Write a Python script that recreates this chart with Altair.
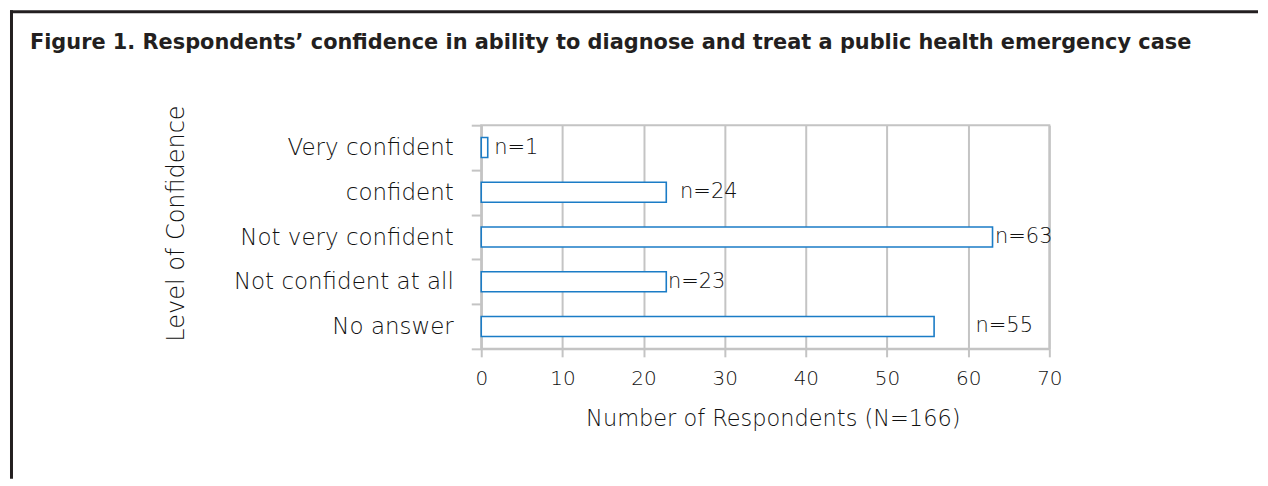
import altair as alt
import pandas as pd

categories = ["Very confident", "confident ", "Not very confident", "Not confident at all", "No answer"]
bar_values = [0.8, 22.8, 63.0, 22.8, 55.8]
labels = ["n=1", "n=24", "n=63", "n=23", "n=55"]
label_at = [1.6, 24.5, 63.3, 23.0, 60.9]

title_text = "Figure 1. Respondents\u2019 confidence in ability to diagnose and treat a public health emergency case"

df = pd.DataFrame({"cat": categories, "val": bar_values, "lab": labels, "lab_x": label_at})

FONT = "DejaVu Sans"
TXT = "#111111"
GRID = "#c4c4c4"
BLUE = "#1b7cc6"

y_enc = alt.Y("cat:N", sort=categories,
              scale=alt.Scale(paddingInner=0, paddingOuter=0),
              axis=alt.Axis(title="Level of Confidence", tickBand="extent", tickSize=10,
                            tickColor=GRID, tickWidth=2, domainColor=GRID, domainWidth=2,
                            labelPadding=18, labelFontSize=23, labelFont=FONT, labelColor=TXT,
                            labelFontWeight=300, labelLimit=0,
                            titleFontSize=24, titleFont=FONT, titleColor=TXT, titleFontWeight=300,
                            titleX=-305, titleY=98, titleBaseline="middle", titleAlign="center",
                            grid=False))

x_scale = alt.Scale(domain=[0, 70], nice=False)

bars = alt.Chart(df).mark_bar(fill="white", stroke=BLUE, strokeWidth=1.6, height=20).encode(
    x=alt.X("val:Q", scale=x_scale,
            axis=alt.Axis(title="Number of Respondents (N=166)", values=[0, 10, 20, 30, 40, 50, 60, 70],
                          grid=True, gridColor=GRID, gridWidth=2, tickSize=8, tickColor=GRID,
                          tickWidth=2, domainColor=GRID, domainWidth=2, labelFlush=False,
                          labelFontSize=20, labelFont=FONT, labelColor=TXT, labelPadding=12,
                          labelFontWeight=300,
                          titleFontSize=22.5, titleFont=FONT, titleColor=TXT, titleFontWeight=300,
                          titlePadding=19, titleX=292, titleAlign="center")),
    y=y_enc,
)

text = alt.Chart(df).mark_text(align="left", baseline="middle", fontSize=21, font=FONT,
                               color=TXT, fontWeight=300).encode(
    x=alt.X("lab_x:Q", scale=x_scale),
    y=alt.Y("cat:N", sort=categories),
    text="lab:N",
)

one = alt.Data(values=[{"a": 1}])

frame_top = alt.Chart(one).mark_rule(color="#231f20", strokeWidth=3).encode(
    x=alt.value(-472), x2=alt.value(778), y=alt.value(-113.5))
frame_left = alt.Chart(one).mark_rule(color="#231f20", strokeWidth=3).encode(
    x=alt.value(-470.5), y=alt.value(-115), y2=alt.value(354))

title = alt.Chart(one).mark_text(align="left", baseline="middle", fontSize=20.9, font=FONT,
                                 fontWeight="bold", color="#231f20").encode(
    x=alt.value(-452), y=alt.value(-82), text=alt.value(title_text))

chart = alt.layer(bars, text, frame_top, frame_left, title).properties(
    width=569, height=224, padding=0
).configure_view(stroke=GRID, strokeWidth=2)

chart.save("out.html", embed_options={"renderer": "svg", "actions": False})
